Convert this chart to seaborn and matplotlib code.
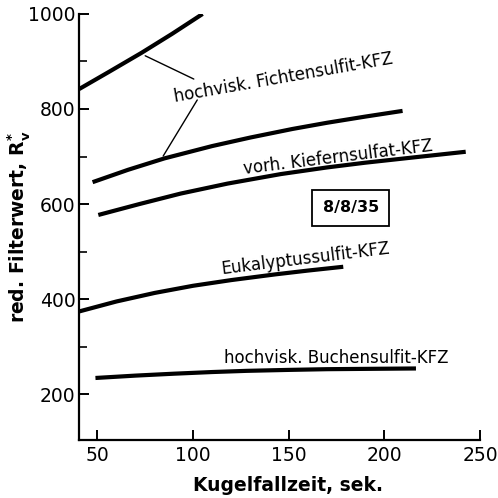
import matplotlib
matplotlib.use("Agg")
import matplotlib.pyplot as plt
import seaborn as sns
import pandas as pd

# --- data ---
fichte_hoch_x = [40.5, 56, 73, 89, 105]
fichte_hoch_y = [842, 878, 918, 958, 1000]
fichte_x = [47.5, 66, 85, 110, 130, 152, 170, 190, 209.5]
fichte_y = [646, 672, 696, 722, 740, 758, 771, 784, 796]
kiefer_x = [50.5, 72, 93.5, 118, 145.8, 170, 190, 215, 242.5]
kiefer_y = [577, 600, 622, 643, 663, 677, 687, 698, 710]
eukal_x = [40.5, 60, 80, 100, 120, 143, 160, 178.5]
eukal_y = [374, 395, 413, 428, 440, 452, 460, 468]
buche_x = [49, 70, 90, 110, 128, 150, 170, 216.5]
buche_y = [234, 239, 243, 246.5, 249, 251, 252.5, 254]

x_ticks = [50, 100, 150, 200, 250]
y_ticks = [200, 400, 600, 800, 1000]
y_minor = [300, 500, 700, 900]

labels = ["hochvisk. Fichtensulfit-KFZ", "vorh. Kiefernsulfat-KFZ",
          "Eukalyptussulfit-KFZ", "hochvisk. Buchensulfit-KFZ"]
box_label = "8/8/35"
x_label = "Kugelfallzeit, sek."
y_label = r"red. Filterwert, R$_\mathbf{v}^{\mathbf{*}}$"

frames = []
for name, xs, ys in [("c1", fichte_hoch_x, fichte_hoch_y),
                     ("c2", fichte_x, fichte_y),
                     ("c3", kiefer_x, kiefer_y),
                     ("c4", eukal_x, eukal_y),
                     ("c5", buche_x, buche_y)]:
    frames.append(pd.DataFrame({"x": xs, "y": ys, "curve": name}))
df = pd.concat(frames, ignore_index=True)

sns.set_style("ticks")
plt.rcParams["font.family"] = ["DejaVu Sans"]
plt.rcParams["text.color"] = "black"
plt.rcParams["axes.labelcolor"] = "black"

fig = plt.figure(figsize=(4.98, 4.98), dpi=100)
ax = fig.add_axes([0.159, 0.116, 0.805, 0.856])

sns.lineplot(data=df, x="x", y="y", units="curve", estimator=None, sort=False,
             color="black", linewidth=3.0, ax=ax, legend=False,
             solid_capstyle="butt", solid_joinstyle="round")

ax.set_xlim(40.5, 250)
ax.set_ylim(103, 1000)
ax.set_xticks(x_ticks)
ax.set_yticks(y_ticks)
ax.set_yticks(y_minor, minor=True)
ax.tick_params(axis="both", which="major", direction="in", length=7.5, width=1.4,
               labelsize=13.5, color="black", labelcolor="black")
ax.tick_params(axis="y", which="major", pad=2.5)
ax.tick_params(axis="x", which="major", pad=4)
ax.tick_params(axis="y", which="minor", direction="in", length=5.5, width=1.2, color="black")
for s in ["top", "right"]:
    ax.spines[s].set_visible(False)
for s in ["left", "bottom"]:
    ax.spines[s].set_linewidth(1.6)
    ax.spines[s].set_color("black")

ax.set_xlabel(x_label, fontsize=13.5, fontweight="bold")
ax.set_ylabel(y_label, fontsize=13.5, fontweight="bold")
ax.xaxis.set_label_coords(0.52, -0.085)
ax.yaxis.set_label_coords(-0.118, 0.5)

txt_kw = dict(fontsize=12, ha="center", va="center", color="black")
ax.text(147, 866, labels[0], rotation=10, **txt_kw)
ax.text(176, 699, labels[1], rotation=7, **txt_kw)
ax.text(159, 484, labels[2], rotation=7, **txt_kw)
ax.text(175, 276, labels[3], rotation=0, **txt_kw)

# leader lines
ax.annotate("", xy=(75, 912), xytext=(100.4, 863),
            arrowprops=dict(arrowstyle="-", color="black", lw=1.0, shrinkA=0, shrinkB=0))
ax.annotate("", xy=(84.4, 701), xytext=(102.2, 819),
            arrowprops=dict(arrowstyle="-", color="black", lw=1.0, shrinkA=0, shrinkB=0))

ax.text(182.5, 592, box_label, fontsize=11.5, fontweight="bold", ha="center", va="center",
        bbox=dict(boxstyle="square,pad=0.65", fc="white", ec="black", lw=1.3))

fig.savefig("out.png", dpi=100)
